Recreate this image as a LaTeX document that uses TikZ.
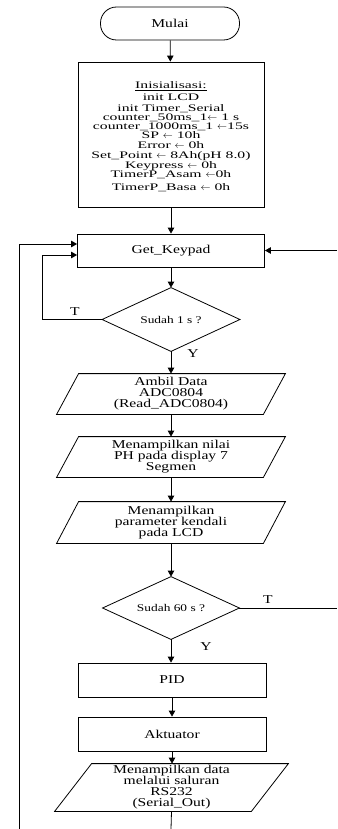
\documentclass[tikz,border=0pt]{standalone}
\usepackage{fontspec}
\setmainfont[FakeStretch=1.3]{Liberation Serif}
\newfontfamily\initfont[FakeStretch=1.57]{Liberation Serif}
\usetikzlibrary{arrows.meta}
\newcommand\plgram[2]{\draw ([xshift=#2]#1.north west) -- ([xshift=#2]#1.north east) -- ([xshift=-#2]#1.south east) -- ([xshift=-#2]#1.south west) -- cycle;}
\newcommand\dmd[1]{\draw (#1.north) -- (#1.east) -- (#1.south) -- (#1.west) -- cycle;}
\begin{document}
\lineskiplimit=-100pt\relax
\begin{tikzpicture}[x=1pt,y=-1pt, line width=0.8pt,
  >={Triangle[length=6pt,width=6.5pt]},
  txt/.style={font=\fontsize{12}{11}\selectfont, align=center, inner sep=0pt},
  box/.style={draw, txt, minimum width=187pt, minimum height=34pt},
  io/.style={txt, minimum width=206pt, minimum height=40pt},
  dec/.style={font=\fontsize{10.3}{12}\selectfont, inner sep=0pt, minimum width=137pt, minimum height=63pt},
  lbl/.style={font=\fontsize{12}{12}\selectfont, inner sep=0pt}]
\lineskiplimit=-100pt\relax
\useasboundingbox (0,0) rectangle (337,829);

\node[draw, txt, rounded corners=16pt, minimum width=139pt, minimum height=33pt] (mulai) at (170,23.5) {Mulai};
\node[draw, minimum width=186pt, minimum height=145pt, inner sep=0pt] (init) at (171,134.5) {};
\node[align=center, inner sep=0pt, font=\initfont\fontsize{10}{9.4}\selectfont] (initT) at (171,137)
 {\underline{Inisialisasi:}\\[2.6pt]init LCD\\[1.3pt]init Timer\_Serial\\counter\_50ms\_1$\leftarrow$ 1 s\\[-1pt]counter\_1000ms\_1 $\leftarrow$15s\\SP $\leftarrow$ 10h\\[0.3pt]Error $\leftarrow$ 0h\\[0.9pt]Set\_Point $\leftarrow$ 8Ah(pH 8.0)\\[0.3pt]Keypress $\leftarrow$ 0h\\TimerP\_Asam $\leftarrow$0h\\[3.6pt]TimerP\_Basa $\leftarrow$ 0h};
\node[box, minimum height=33pt] (gk) at (171,250.5) {Get\_Keypad};
\node[dec] (d1) at (171,319.5) {Sudah 1 s ?};
\dmd{d1}
\node[io] (p1) at (171,394) {Ambil Data\\ADC0804\\(Read\_ADC0804)};
\plgram{p1}{11pt}
\node[io] (p2) at (171,457) {Menampilkan nilai\\PH pada display 7\\Segmen};
\plgram{p2}{11pt}
\node[io, minimum height=41pt] (p3) at (171,522.5) {Menampilkan\\parameter kendali\\pada LCD};
\plgram{p3}{11pt}
\node[dec, minimum width=136pt, minimum height=62pt] (d2) at (171,608) {Sudah 60 s ?};
\dmd{d2}
\node[box, minimum width=188pt] (pid) at (172,680) {PID};
\node[box, minimum width=188pt] (akt) at (172,734) {Aktuator};
\node[txt, minimum width=196pt, minimum height=47pt] (p4) at (171.5,787.5) {Menampilkan data\\melalui saluran\\RS232\\(Serial\_Out)};
\plgram{p4}{18.5pt}

\node[lbl] (t1) at (75,312) {T};
\node[lbl] (y1) at (193,354) {Y};
\node[lbl] (t2) at (268,600) {T};
\node[lbl] (y2) at (206,647) {Y};

\coordinate (ob) at (19,829);
\coordinate (il) at (42,319.5);
\coordinate (rin) at (337,250.5);
\coordinate (rout) at (337,608);
\coordinate (bot) at (171,829);

\draw[->] (mulai) -- (init);
\draw[->] (init) -- (gk);
\draw[->] (gk) -- (d1);
\draw[->] (d1) -- (p1);
\draw[->] (p1) -- (p2);
\draw[->] (p2) -- (p3);
\draw[->] (p3) -- (d2);
\draw[->] (d2) -- (d2.south |- pid.north);
\draw[->] (pid) -- (akt);
\draw[->] (akt) -- (akt.south |- p4.north);
\draw (p4.south) -- (bot);
\draw[->] (ob) |- ([yshift=6.5pt]gk.west);
\draw[->] (d1.west) -- (il) |- ([yshift=-4.5pt]gk.west);
\draw[->] (rin) -- (gk.east);
\draw (d2.east) -- (rout);
\end{tikzpicture}
\end{document}
